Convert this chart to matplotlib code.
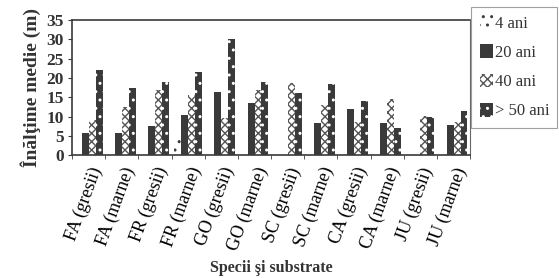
import matplotlib
matplotlib.use("Agg")
import matplotlib.pyplot as plt
import numpy as np

categories = ["FA (gresii)", "FA (marne)", "FR (gresii)", "FR (marne)", "GO (gresii)", "GO (marne)",
              "SC (gresii)", "SC (marne)", "CA (gresii)", "CA (marne)", "JU (gresii)", "JU (marne)"]
ani4  = [0.3, 0, 0, 4.2, 0, 0, 0, 0, 0, 0, 0, 0]
ani20 = [5.8, 5.8, 7.5, 10.5, 16.3, 13.5, 0, 8.4, 12.0, 8.3, 0, 7.8]
ani40 = [9.0, 12.5, 17.0, 15.5, 9.5, 17.0, 18.7, 13.0, 8.6, 14.6, 10.2, 8.7]
ani50 = [22.0, 17.5, 19.0, 21.5, 30.0, 19.0, 16.0, 18.3, 14.0, 7.0, 10.0, 11.5]
series_labels = ["4 ani", "20 ani", "40 ani", "> 50 ani"]

plt.rcParams['hatch.linewidth'] = 1.0
fig = plt.figure(figsize=(5.59, 2.78), dpi=100)
ax = fig.add_axes([0.129, 0.442, 0.712, 0.486])

x = np.arange(len(categories))
w = 0.21
dark = "#3a3a3a"
b1 = ax.bar(x - 1.5*w, ani4, w, facecolor="white", edgecolor=dark, hatch="..", linewidth=0)
b2 = ax.bar(x - 0.5*w, ani20, w, color=dark, linewidth=0)
b3 = ax.bar(x + 0.5*w, ani40, w, facecolor="white", edgecolor="#555555", hatch="xxxx", linewidth=0)
b4 = ax.bar(x + 1.5*w, ani50, w, facecolor=dark, edgecolor="white", hatch="..", linewidth=0)

ax.set_xlim(-0.5, len(categories) - 0.5)
ax.set_ylim(0, 35)
ax.set_yticks(range(0, 36, 5))
ax.set_xticks(x)
ax.set_xticklabels(categories, rotation=70, ha="right", rotation_mode="anchor",
                   fontfamily="Liberation Serif", fontsize=13)
ax.set_xticks(np.arange(-0.5, len(categories), 1), minor=True)
ax.tick_params(axis="x", which="major", length=0, pad=7)
ax.tick_params(axis="x", which="minor", length=3, direction="out", color=dark)
ax.tick_params(axis="y", length=3, direction="out", color=dark, pad=3)
for lab in ax.get_yticklabels():
    lab.set_fontfamily("Liberation Serif")
    lab.set_fontweight("bold")
    lab.set_fontsize(12.5)
    lab.set_color("#333333")

for s in ["left", "bottom", "top"]:
    ax.spines[s].set_color(dark)
    ax.spines[s].set_linewidth(1.2)
ax.spines["right"].set_linestyle((0, (1, 1)))
ax.spines["right"].set_color("#666666")
ax.spines["right"].set_linewidth(0.8)

ax.set_ylabel("Înălţime medie (m)", fontfamily="Liberation Serif", fontweight="bold",
              fontsize=14, color="#333333", labelpad=4)
ax.set_xlabel("Specii şi substrate", fontfamily="Liberation Serif", fontweight="bold",
              fontsize=11.5, color="#333333", labelpad=5)

leg = fig.legend([b1, b2, b3, b4], series_labels, loc="upper left",
                 bbox_to_anchor=(0.843, 0.975), frameon=True, fancybox=False,
                 prop={"family": "Liberation Serif", "size": 12},
                 handlelength=0.8, handleheight=0.9, handletextpad=0.1,
                 labelspacing=0.75, borderpad=0.5, borderaxespad=0)
leg.get_frame().set_edgecolor("#888888")
leg.get_frame().set_linewidth(0.8)
for t in leg.get_texts():
    t.set_color("#333333")

fig.savefig("out.png", dpi=100)
